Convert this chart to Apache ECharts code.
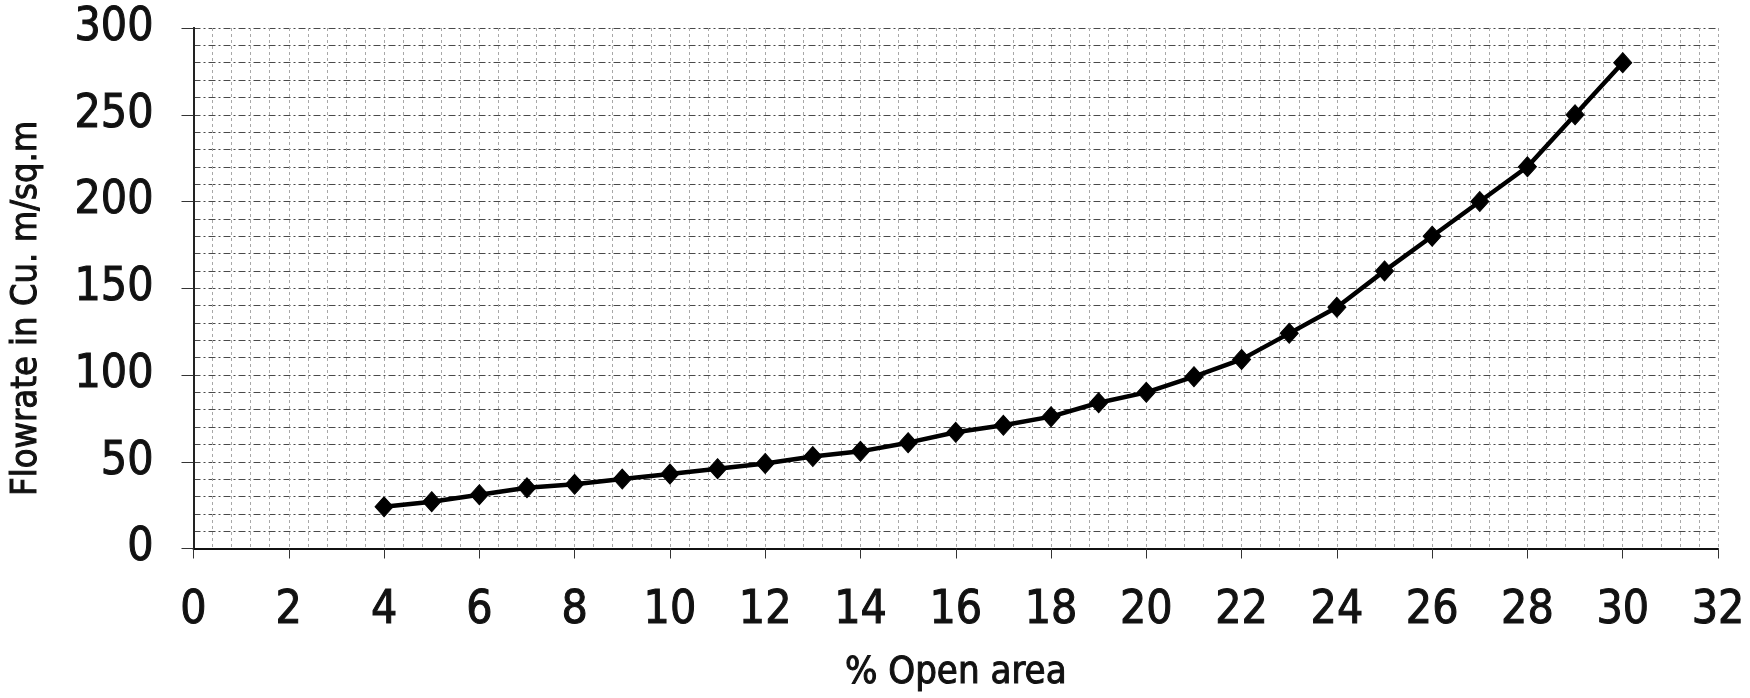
<!DOCTYPE html>
<html>
<head>
<meta charset="utf-8">
<script src="https://cdn.jsdelivr.net/npm/echarts@6/dist/echarts.min.js"></script>
<style>
  html, body { margin: 0; padding: 0; background: #fff; }
  #chart { width: 1750px; height: 698px; }
</style>
</head>
<body>
<div id="chart"></div>
<script>
// Percent open area and measured flowrate
const openArea = [4, 5, 6, 7, 8, 9, 10, 11, 12, 13, 14, 15, 16, 17, 18, 19, 20, 21, 22, 23, 24, 25, 26, 27, 28, 29, 30];
const flowrate = [24, 27, 31, 35, 37, 40, 43, 46, 49, 53, 56, 61, 67, 71, 76, 84, 90, 99, 109, 124, 139, 160, 180, 200, 220, 250, 280];

const xTitle = '% Open area';
const yTitle = 'Flowrate in Cu. m/sq.m';

const FONT = "'Liberation Sans Narrow', 'Arial Narrow', 'DejaVu Sans Condensed', sans-serif";

const points = openArea.map((x, i) => [x, flowrate[i]]);

const chart = echarts.init(document.getElementById('chart'), null, { renderer: 'canvas' });

// heavier dash-dot rules across, lighter dashed rules down
const hLine = { color: '#4a4a4a', width: 1, type: [7, 3, 2, 3] };
const vLine = { color: '#a8a8a8', width: 1, type: [3, 3] };

// thickened label text
const labelText = { fontFamily: FONT, color: '#111', textBorderColor: '#111', textBorderWidth: 1 };

chart.setOption({
  animation: false,
  backgroundColor: '#fff',
  grid: { left: 187, right: 32, top: 28, bottom: 147, containLabel: false },
  xAxis: {
    type: 'value',
    min: 0, max: 32, interval: 2,
    name: xTitle,
    nameLocation: 'middle',
    nameGap: 106,
    nameTextStyle: Object.assign({ fontSize: 38 }, labelText),
    axisLine: { show: true, onZero: false, lineStyle: { color: '#111', width: 2 } },
    axisTick: { show: true, length: 10, lineStyle: { color: '#333', width: 1 } },
    axisLabel: Object.assign({ fontSize: 46, margin: 40 }, labelText),
    splitLine: { show: true, lineStyle: vLine },
    minorTick: { show: false, splitNumber: 5 },
    minorSplitLine: { show: true, lineStyle: vLine }
  },
  yAxis: [{
    type: 'value',
    min: 0, max: 300, interval: 50,
    name: yTitle,
    nameLocation: 'middle',
    nameGap: 149,
    nameRotate: 90,
    nameTextStyle: Object.assign({ fontSize: 36, padding: [0, 40, 0, 0] }, labelText),
    axisLine: { show: true, onZero: false, lineStyle: { color: '#111', width: 2 } },
    axisTick: { show: true, length: 12, lineStyle: { color: '#333', width: 1 } },
    axisLabel: Object.assign({ fontSize: 46, margin: 40 }, labelText),
    splitLine: { show: true, lineStyle: hLine },
    minorTick: { show: false, splitNumber: 5 },
    minorSplitLine: { show: true, lineStyle: hLine }
  }, {
    type: 'value',
    position: 'right',
    min: 0, max: 300, interval: 50,
    axisLine: { show: true, lineStyle: { color: '#222', width: 2 } },
    axisTick: { show: false },
    axisLabel: { show: false },
    splitLine: { show: false }
  }],
  series: [{
    type: 'line',
    data: points,
    symbol: 'diamond',
    symbolSize: [18, 20],
    showAllSymbol: true,
    lineStyle: { color: '#000', width: 4.5 },
    itemStyle: { color: '#000', borderColor: '#000' },
    z: 5
  }]
});
</script>
</body>
</html>
